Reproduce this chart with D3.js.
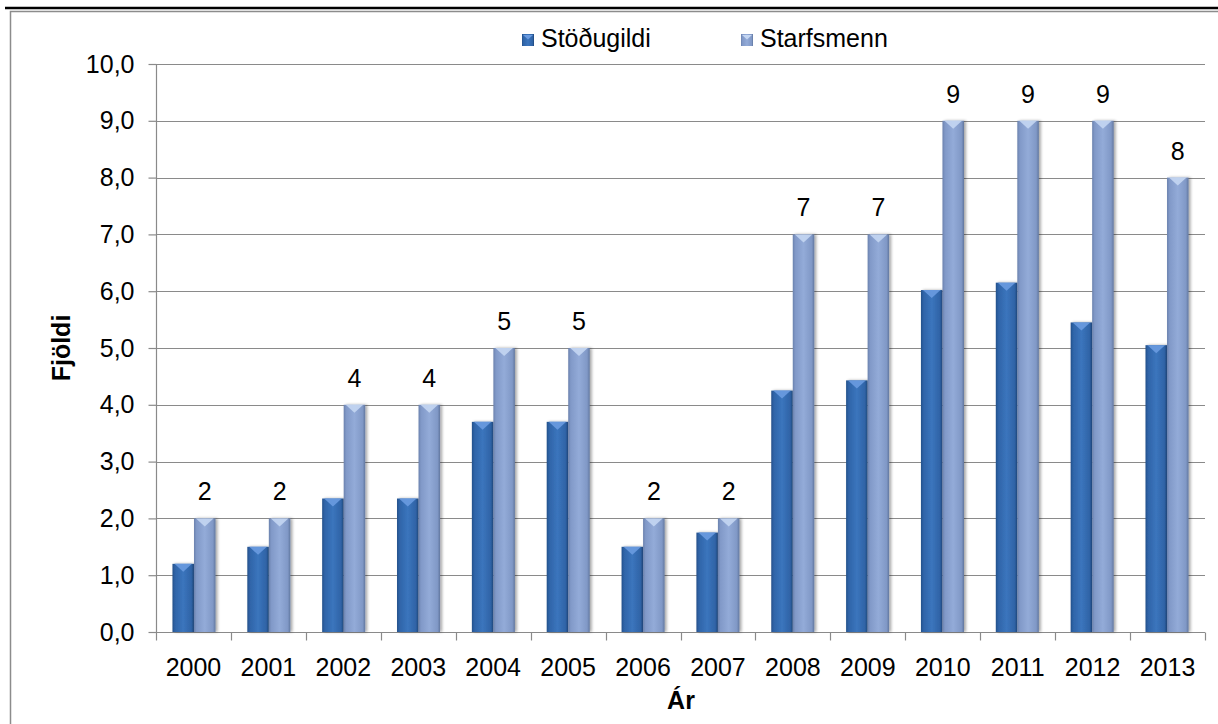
<!DOCTYPE html>
<html>
<head>
<meta charset="utf-8">
<script src="https://cdn.jsdelivr.net/npm/d3@7"></script>
<style>
  body { margin: 0; background: #fff; }
  svg { display: block; font-family: "Liberation Sans", Arial, sans-serif; }
</style>
</head>
<body>
<div id="chart"></div>
<script>
// data
var years = ["2000","2001","2002","2003","2004","2005","2006","2007","2008","2009","2010","2011","2012","2013"];
var stodugildi = [1.2, 1.5, 2.35, 2.35, 3.7, 3.7, 1.5, 1.75, 4.25, 4.43, 6.02, 6.15, 5.45, 5.05];
var starfsmenn = [2, 2, 4, 4, 5, 5, 2, 2, 7, 7, 9, 9, 9, 8];
var yTicks = [0, 1, 2, 3, 4, 5, 6, 7, 8, 9, 10];
var seriesNames = ["Stöðugildi", "Starfsmenn"];

var width = 1218, height = 724;
var margin = {top: 64, left: 156, right: 13, bottom: 92};
var fontSize = 25;

var svg = d3.select("#chart").append("svg")
    .attr("width", width)
    .attr("height", height);

var defs = svg.append("defs");

// horizontal gradients for the bevelled bars
function barGradient(id, stops) {
  var g = defs.append("linearGradient").attr("id", id)
      .attr("x1", "0%").attr("x2", "100%").attr("y1", "0%").attr("y2", "0%");
  stops.forEach(function(s) {
    g.append("stop").attr("offset", s[0]).attr("stop-color", s[1]);
  });
}
barGradient("gDark", [["0%", "#24508a"], ["12%", "#2f64a8"], ["50%", "#3b75bd"], ["88%", "#2f63a6"], ["100%", "#1f4578"]]);
barGradient("gLight", [["0%", "#6b82ae"], ["12%", "#8199c8"], ["50%", "#93abd8"], ["88%", "#8098c6"], ["100%", "#61779f"]]);

var shadow = defs.append("filter").attr("id", "shadow")
    .attr("x", "-30%").attr("y", "-10%").attr("width", "160%").attr("height", "120%");
shadow.append("feGaussianBlur").attr("in", "SourceAlpha").attr("stdDeviation", 1.6);
shadow.append("feOffset").attr("dx", 1.5).attr("dy", 0).attr("result", "off");
shadow.append("feComponentTransfer").append("feFuncA").attr("type", "linear").attr("slope", 0.35);
var merge = shadow.append("feMerge");
merge.append("feMergeNode");
merge.append("feMergeNode").attr("in", "SourceGraphic");

// frame
svg.append("line").attr("x1", 5).attr("x2", width).attr("y1", 8).attr("y2", 8)
    .attr("stroke", "#000").attr("stroke-width", 2.5);
svg.append("path").attr("d", "M10.5," + height + "V11.5H" + width)
    .attr("fill", "none").attr("stroke", "#8c8c8c").attr("stroke-width", 1.5);

var x = d3.scaleBand()
    .domain(years)
    .range([margin.left, width - margin.right])
    .paddingInner(0.425)
    .paddingOuter(0.22);

var x0 = d3.scaleBand().domain(years).range([margin.left, width - margin.right]);

var xs = d3.scaleBand().domain(seriesNames).range([0, x.bandwidth()]);

var y = d3.scaleLinear().domain([0, 10]).range([height - margin.bottom, margin.top]);

// gridlines
svg.append("g").selectAll("line").data(yTicks.filter(function(d) { return d > 0; }))
  .enter().append("line")
    .attr("x1", margin.left).attr("x2", width - margin.right)
    .attr("y1", function(d) { return Math.round(y(d)) + 0.5; })
    .attr("y2", function(d) { return Math.round(y(d)) + 0.5; })
    .attr("stroke", "#8a8a8a").attr("stroke-width", 1.2);

// y axis
var yAxis = svg.append("g")
    .attr("transform", "translate(" + (margin.left + 0.5) + ",0)")
    .call(d3.axisLeft(y).tickValues(yTicks).tickSize(8).tickPadding(14)
      .tickFormat(function(d) { return d.toFixed(1).replace(".", ","); }));
yAxis.selectAll("text").attr("font-size", fontSize).attr("fill", "#000")
    .attr("font-family", "Liberation Sans, Arial, sans-serif");
yAxis.selectAll("line, path").attr("stroke", "#8a8a8a").attr("stroke-width", 1.2);
yAxis.select(".domain").attr("d", "M0," + y(10) + "V" + y(0));

// x axis with ticks between categories
var xAxis = svg.append("g")
    .attr("transform", "translate(0," + (Math.round(y(0)) + 0.5) + ")");
xAxis.append("line").attr("x1", margin.left).attr("x2", width - margin.right)
    .attr("stroke", "#8a8a8a").attr("stroke-width", 1.2);
var bounds = years.map(function(d) { return x0(d); }).concat([width - margin.right]);
xAxis.selectAll(".tk").data(bounds).enter().append("line")
    .attr("x1", function(d) { return Math.round(d) + 0.5; })
    .attr("x2", function(d) { return Math.round(d) + 0.5; })
    .attr("y1", 0).attr("y2", 8)
    .attr("stroke", "#8a8a8a").attr("stroke-width", 1.2);
xAxis.selectAll(".lbl").data(years).enter().append("text")
    .attr("x", function(d) { return x0(d) + x0.bandwidth() / 2; })
    .attr("y", 43)
    .attr("text-anchor", "middle")
    .attr("font-size", fontSize)
    .text(function(d) { return d; });

// bars
function drawBars(values, series, fill, topFill) {
  var g = svg.append("g");
  var bw = xs.bandwidth();
  var bars = g.selectAll("g").data(values).enter().append("g")
      .attr("transform", function(d, i) { return "translate(" + (x(years[i]) + xs(series)) + ",0)"; });
  bars.append("rect")
      .attr("x", 0).attr("width", bw)
      .attr("y", function(d) { return y(d); })
      .attr("height", function(d) { return y(0) - y(d); })
      .attr("fill", fill)
      .attr("filter", "url(#shadow)");
  // bevelled top
  bars.append("path")
      .attr("d", function(d) {
        var t = y(d);
        return "M2," + t + "H" + (bw - 2) + "L" + (bw / 2) + "," + (t + 8) + "Z";
      })
      .attr("fill", topFill).attr("opacity", 0.9);
  return bars;
}
drawBars(stodugildi, "Stöðugildi", "url(#gDark)", "#6a9be0");
drawBars(starfsmenn, "Starfsmenn", "url(#gLight)", "#c4d6f2");

// data labels on the employee series
svg.append("g").selectAll("text").data(starfsmenn).enter().append("text")
    .attr("x", function(d, i) { return x(years[i]) + xs("Starfsmenn") + xs.bandwidth() / 2; })
    .attr("y", function(d) { return y(d) - 18; })
    .attr("text-anchor", "middle")
    .attr("font-size", fontSize)
    .text(function(d) { return d; });

// legend
var legendX = [522, 741];
var legendFill = ["url(#gDark)", "url(#gLight)"];
var legendTop = ["#6a9be0", "#c4d6f2"];
var lg = svg.append("g").selectAll("g").data(seriesNames).enter().append("g")
    .attr("transform", function(d, i) { return "translate(" + legendX[i] + ",34)"; });
lg.append("rect").attr("width", 12).attr("height", 12)
    .attr("fill", function(d, i) { return legendFill[i]; });
lg.append("path").attr("d", "M1,1H11L6,5.5Z")
    .attr("fill", function(d, i) { return legendTop[i]; });
lg.append("text").attr("x", 19).attr("y", 13).attr("font-size", fontSize)
    .text(function(d) { return d; });

// axis titles
svg.append("text")
    .attr("transform", "translate(70," + ((y(0) + y(10)) / 2) + ") rotate(-90)")
    .attr("text-anchor", "middle")
    .attr("font-size", fontSize).attr("font-weight", "bold")
    .text("Fjöldi");
svg.append("text")
    .attr("x", 681)
    .attr("y", 709)
    .attr("text-anchor", "middle")
    .attr("font-size", fontSize).attr("font-weight", "bold")
    .text("Ár");
</script>
</body>
</html>
